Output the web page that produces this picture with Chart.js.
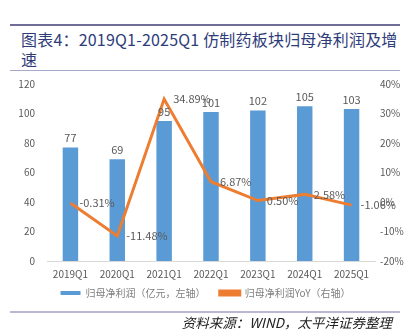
<!DOCTYPE html>
<html lang="zh">
<head>
    <meta charset="UTF-8">
    <title>仿制药板块归母净利润及增速</title>
    <script src="https://cdn.jsdelivr.net/npm/chart.js@4/dist/chart.umd.min.js"></script>
    <style>
        html, body { margin: 0; padding: 0; background: #fff; }
        body { width: 411px; height: 335px; position: relative; overflow: hidden; font-family: "Noto Sans CJK SC", sans-serif; }
        .rule-top { position: absolute; left: 10px; width: 390px; top: 24px; height: 2px; background: #6e6e96; }
        .title { position: absolute; left: 21px; top: 29px; width: 385px; font-size: 16px; line-height: 20px; color: #2f3c7a; letter-spacing: 0.2px; }
        .rule-mid { position: absolute; left: 10px; width: 390px; top: 70px; height: 1px; background: #a8a8c8; }
        .chart-box { position: absolute; left: 0; top: 72px; width: 411px; height: 240px; }
        .rule-bot { position: absolute; left: 10px; width: 390px; top: 311px; height: 2px; background: #b8b8d0; }
        .source { position: absolute; right: 19px; top: 313px; font-size: 13.5px; line-height: 18px; font-style: italic; color: #222; }
    </style>
</head>
<body>
    <div class="rule-top"></div>
    <div class="title">图表4：2019Q1-2025Q1 仿制药板块归母净利润及增<br>速</div>
    <div class="rule-mid"></div>
    <div class="chart-box"><canvas id="profitChart" width="411" height="240"></canvas></div>
    <div class="rule-bot"></div>
    <div class="source">资料来源：WIND，太平洋证券整理</div>

    <script>
        const quarters = ['2019Q1', '2020Q1', '2021Q1', '2022Q1', '2023Q1', '2024Q1', '2025Q1'];
        const netProfit = [77, 69, 95, 101, 102, 105, 103];
        const profitYoY = [-0.31, -11.48, 34.89, 6.87, 0.50, 2.58, -1.06];
        const leftTicks = [0, 20, 40, 60, 80, 100, 120];
        const rightTicks = [-20, -10, 0, 10, 20, 30, 40];

        const labelColor = '#595959';

        // value labels: numbers above bars, percentages to the right of line points
        const valueLabels = {
            id: 'valueLabels',
            afterDatasetsDraw(chart) {
                const ctx = chart.ctx;
                ctx.save();
                ctx.font = '11px "Noto Sans CJK SC", sans-serif';
                ctx.fillStyle = labelColor;

                chart.getDatasetMeta(1).data.forEach((bar, i) => {
                    ctx.textAlign = 'center';
                    ctx.textBaseline = 'bottom';
                    ctx.fillText(String(netProfit[i]), bar.x, bar.y - 4);
                });

                chart.getDatasetMeta(0).data.forEach((pt, i) => {
                    ctx.textAlign = 'left';
                    ctx.textBaseline = 'middle';
                    ctx.fillText(profitYoY[i].toFixed(2) + '%', pt.x + 9, pt.y);
                });
                ctx.restore();
            }
        };

        // fixed axis sizes so the plot area stays put
        function fixY(width) {
            return scale => {
                scale.width = width;
                scale.paddingTop = 0;
                scale.paddingBottom = 0;
            };
        }

        const ctx = document.getElementById('profitChart').getContext('2d');
        new Chart(ctx, {
            data: {
                labels: quarters,
                datasets: [
                    {
                        type: 'line',
                        label: '归母净利润YoY（右轴）',
                        data: profitYoY,
                        yAxisID: 'yRight',
                        borderColor: '#ed7d31',
                        backgroundColor: '#ed7d31',
                        borderWidth: 3,
                        pointRadius: 0,
                        tension: 0,
                        order: 0
                    },
                    {
                        type: 'bar',
                        label: '归母净利润（亿元，左轴）　 ',
                        data: netProfit,
                        yAxisID: 'yLeft',
                        backgroundColor: '#5b9bd5',
                        barPercentage: 0.55,
                        categoryPercentage: 0.6,
                        order: 1
                    }
                ]
            },
            options: {
                responsive: false,
                animation: false,
                layout: { padding: { top: 12, left: 0, right: 0, bottom: 4 } },
                plugins: {
                    tooltip: { enabled: false },
                    legend: {
                        position: 'bottom',
                        reverse: true,
                        labels: {
                            boxWidth: 20,
                            boxHeight: 4,
                            padding: 7,
                            color: '#7f7f7f',
                            font: { size: 10, family: '"Noto Sans CJK SC", sans-serif' }
                        }
                    }
                },
                scales: {
                    x: {
                        grid: { display: false, drawTicks: false },
                        border: { color: '#d9d9d9', width: 1 },
                        ticks: {
                            color: labelColor,
                            padding: 7,
                            maxRotation: 0,
                            font: { size: 10, family: '"Noto Sans CJK SC", sans-serif' }
                        },
                        afterFit(scale) {
                            scale.height = 20;
                            scale.paddingLeft = 0;
                            scale.paddingRight = 0;
                        }
                    },
                    yLeft: {
                        position: 'left',
                        min: 0,
                        max: 120,
                        afterBuildTicks(scale) { scale.ticks = leftTicks.map(v => ({ value: v })); },
                        grid: { display: false, drawTicks: false },
                        border: { display: false },
                        ticks: {
                            color: labelColor,
                            padding: 12,
                            font: { size: 10, family: '"Noto Sans CJK SC", sans-serif' }
                        },
                        afterFit: fixY(47)
                    },
                    yRight: {
                        position: 'right',
                        min: -20,
                        max: 40,
                        afterBuildTicks(scale) { scale.ticks = rightTicks.map(v => ({ value: v })); },
                        grid: { display: false, drawTicks: false },
                        border: { display: false },
                        ticks: {
                            color: labelColor,
                            padding: 5,
                            callback: v => v + '%',
                            font: { size: 10, family: '"Noto Sans CJK SC", sans-serif' }
                        },
                        afterFit: fixY(36)
                    }
                }
            },
            plugins: [valueLabels]
        });
    </script>
</body>
</html>
